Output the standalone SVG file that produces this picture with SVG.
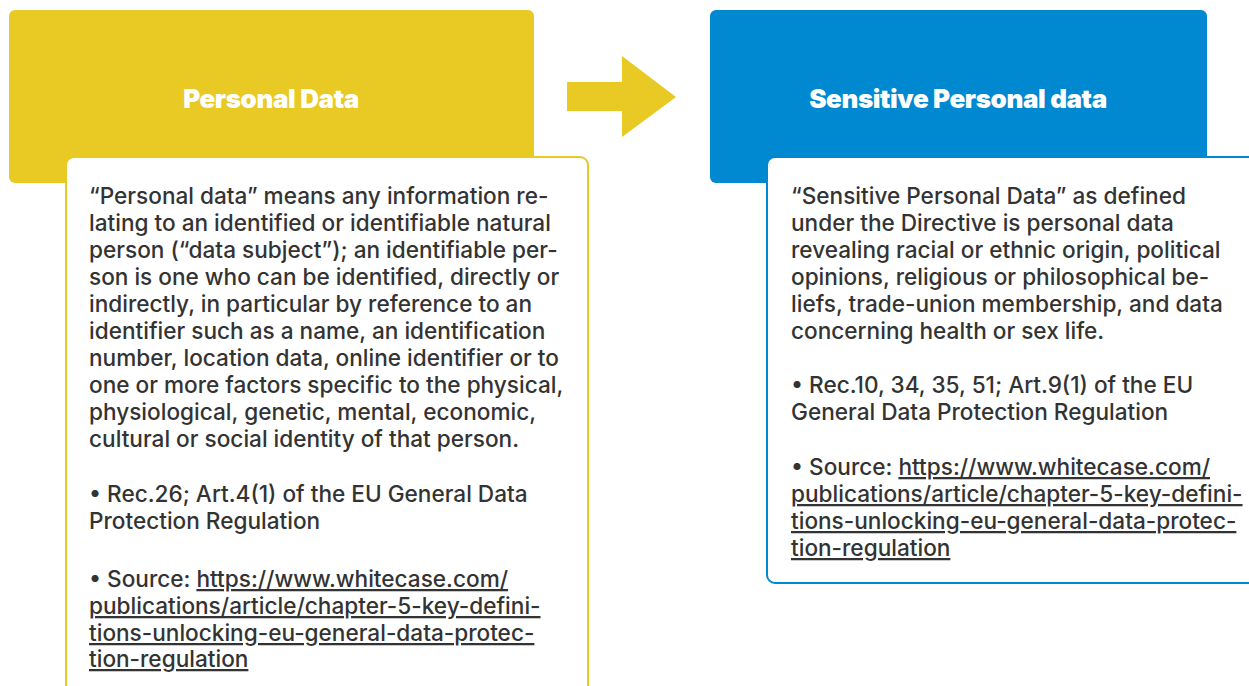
<svg xmlns="http://www.w3.org/2000/svg" width="1249" height="686" viewBox="0 0 1249 686">
<style>
.title{font-family:Inter,"Noto Sans",sans-serif;font-weight:900;font-size:26px;fill:#ffffff;text-anchor:middle;letter-spacing:-0.4px}
.body{font-family:Inter,"Noto Sans",sans-serif;font-weight:500;font-size:22.6px;fill:#333333}
.link{text-decoration:underline}
</style>
<rect width="1249" height="686" fill="#ffffff"/>
<g id="personal-data">
<rect x="9" y="10" width="525" height="173" rx="6" fill="#E9C924"/>
<text class="title" x="271" y="108">Personal Data</text>
</g>
<g id="personal-data-def">
<rect x="66" y="157" width="522" height="560" rx="8" fill="#ffffff" stroke="#E9C924" stroke-width="2"/>
<text class="body">
<tspan x="89" y="204">“Personal data” means any information re-</tspan>
<tspan x="89" y="231">lating to an identified or identifiable natural</tspan>
<tspan x="89" y="258">person (“data subject”); an identifiable per-</tspan>
<tspan x="89" y="285">son is one who can be identified, directly or</tspan>
<tspan x="89" y="312">indirectly, in particular by reference to an</tspan>
<tspan x="89" y="339">identifier such as a name, an identification</tspan>
<tspan x="89" y="366">number, location data, online identifier or to</tspan>
<tspan x="89" y="393">one or more factors specific to the physical,</tspan>
<tspan x="89" y="420">physiological, genetic, mental, economic,</tspan>
<tspan x="89" y="447">cultural or social identity of that person.</tspan>
<tspan x="89" y="502">• Rec.26; Art.4(1) of the EU General Data</tspan>
<tspan x="89" y="529">Protection Regulation</tspan>
<tspan x="89" y="587">• Source: <tspan class="link">https://www.whitecase.com/</tspan></tspan>
<tspan x="89" y="614" class="link">publications/article/chapter-5-key-defini-</tspan>
<tspan x="89" y="641" class="link">tions-unlocking-eu-general-data-protec-</tspan>
<tspan x="89" y="667" class="link">tion-regulation</tspan>
</text>
</g>
<g id="sensitive-data">
<rect x="710" y="10" width="497" height="173" rx="6" fill="#0088D1"/>
<text class="title" x="958" y="108">Sensitive Personal data</text>
</g>
<g id="sensitive-data-def">
<rect x="767" y="157" width="520" height="426" rx="8" fill="#ffffff" stroke="#0088D1" stroke-width="2"/>
<text class="body">
<tspan x="791" y="204">“Sensitive Personal Data” as defined</tspan>
<tspan x="791" y="231">under the Directive is personal data</tspan>
<tspan x="791" y="258">revealing racial or ethnic origin, political</tspan>
<tspan x="791" y="285">opinions, religious or philosophical be-</tspan>
<tspan x="791" y="312">liefs, trade-union membership, and data</tspan>
<tspan x="791" y="339">concerning health or sex life.</tspan>
<tspan x="791" y="393">• Rec.10, 34, 35, 51; Art.9(1) of the EU</tspan>
<tspan x="791" y="420">General Data Protection Regulation</tspan>
<tspan x="791" y="475">• Source: <tspan class="link">https://www.whitecase.com/</tspan></tspan>
<tspan x="791" y="502" class="link">publications/article/chapter-5-key-defini-</tspan>
<tspan x="791" y="529" class="link">tions-unlocking-eu-general-data-protec-</tspan>
<tspan x="791" y="556" class="link">tion-regulation</tspan>
</text>
</g>
<g id="connectors">
<polygon points="567,82 622,82 622,56 676,97 622,137 622,111 567,111" fill="#E9C924"/>
</g>
</svg>
